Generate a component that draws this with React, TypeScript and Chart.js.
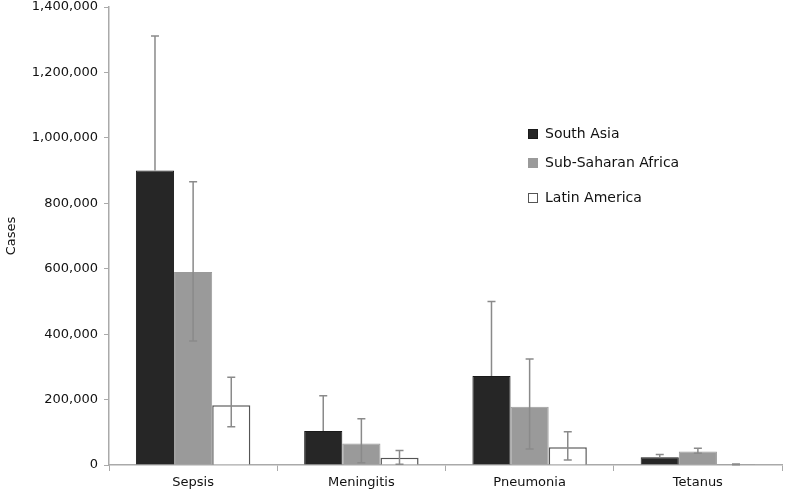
import React, { useEffect, useRef } from "react";
import { Chart, registerables } from "chart.js";

Chart.register(...registerables);

const categories = ["Sepsis", "Meningitis", "Pneumonia", "Tetanus"];
const seriesNames = ["South Asia", "Sub-Saharan Africa", "Latin America"];
const southAsia = [900000, 104000, 272000, 24000];
const southAsiaLow = [900000, 104000, 272000, 24000];
const southAsiaHigh = [1311000, 212000, 500000, 32000];
const subSaharan = [590000, 66000, 178000, 41000];
const subSaharanLow = [379000, 7000, 49000, 36000];
const subSaharanHigh = [866000, 141000, 324000, 51000];
const latinAmerica = [183000, 22000, 54000, 2000];
const latinAmericaLow = [117000, 2000, 15000, 1000];
const latinAmericaHigh = [268000, 44000, 102000, 3000];
const yTicksMax = 1400000;
const yStep = 200000;

const FONT = "'DejaVu Sans', sans-serif";

const errorBarPlugin = {
  id: "errorBars",
  afterDatasetsDraw(chart: any) {
    const ctx = chart.ctx;
    const yScale = chart.scales.y;
    chart.data.datasets.forEach((ds: any, i: number) => {
      const meta = chart.getDatasetMeta(i);
      meta.data.forEach((el: any, j: number) => {
        const lo = yScale.getPixelForValue(ds.errLow[j]);
        const hi = yScale.getPixelForValue(ds.errHigh[j]);
        const x = el.x;
        ctx.save();
        ctx.strokeStyle = "#8a8a8a";
        ctx.lineWidth = 1.5;
        ctx.beginPath();
        ctx.moveTo(x, lo);
        ctx.lineTo(x, hi);
        ctx.moveTo(x - 4, hi);
        ctx.lineTo(x + 4, hi);
        if (ds.errLow[j] < ds.data[j]) {
          ctx.moveTo(x - 4, lo);
          ctx.lineTo(x + 4, lo);
        }
        ctx.stroke();
        ctx.restore();
      });
    });
  },
};

const legendPlugin = {
  id: "customLegend",
  afterDraw(chart: any) {
    const ctx = chart.ctx;
    const rowsY = [134, 163, 198];
    const boxX = 528;
    ctx.save();
    ctx.font = `14px ${FONT}`;
    ctx.textBaseline = "middle";
    chart.data.datasets.forEach((ds: any, i: number) => {
      const y = rowsY[i];
      ctx.fillStyle = ds.backgroundColor;
      ctx.fillRect(boxX, y - 5, 10, 10);
      ctx.strokeStyle = ds.borderColor;
      ctx.lineWidth = 1;
      ctx.strokeRect(boxX + 0.5, y - 4.5, 9, 9);
      ctx.fillStyle = "#111";
      ctx.fillText(ds.label, boxX + 17, y);
    });
    ctx.restore();
  },
};

export default function App() {
  const ref = useRef<HTMLCanvasElement>(null);
  useEffect(() => {
    document.body.style.margin = "0";
    const chart = new Chart(ref.current!, {
      type: "bar",
      data: {
        labels: categories,
        datasets: [
          {
            label: seriesNames[0],
            data: southAsia,
            errLow: southAsiaLow,
            errHigh: southAsiaHigh,
            backgroundColor: "#262626",
            borderColor: "#1a1a1a",
            borderWidth: 1,
          } as any,
          {
            label: seriesNames[1],
            data: subSaharan,
            errLow: subSaharanLow,
            errHigh: subSaharanHigh,
            backgroundColor: "#9a9a9a",
            borderColor: "#9a9a9a",
            borderWidth: 1,
          } as any,
          {
            label: seriesNames[2],
            data: latinAmerica,
            errLow: latinAmericaLow,
            errHigh: latinAmericaHigh,
            backgroundColor: "#ffffff",
            borderColor: "#555555",
            borderWidth: 1.5,
          } as any,
        ],
      },
      options: {
        animation: false,
        responsive: false,
        layout: { padding: { top: 7, right: 8, left: 0, bottom: 0 } },
        plugins: { legend: { display: false }, tooltip: { enabled: false } },
        datasets: { bar: { categoryPercentage: 0.68, barPercentage: 1.0 } },
        scales: {
          x: {
            grid: {
              display: true,
              drawOnChartArea: false,
              offset: true,
              tickLength: 6,
              color: "#aaaaaa",
            },
            border: { color: "#aaaaaa", width: 1.5 },
            ticks: { font: { family: FONT, size: 13 }, color: "#111", padding: 4 },
            afterFit(scale: any) {
              scale.height = 30;
              scale.paddingLeft = 0;
              scale.paddingRight = 0;
            },
          },
          y: {
            min: 0,
            max: yTicksMax,
            ticks: {
              stepSize: yStep,
              font: { family: FONT, size: 13 },
              color: "#111",
              padding: 6,
              callback: (v: any) => Number(v).toLocaleString("en-US"),
            },
            grid: {
              display: true,
              drawOnChartArea: false,
              tickLength: 5,
              color: "#aaaaaa",
            },
            border: { color: "#aaaaaa", width: 1.5 },
            title: {
              display: true,
              text: "Cases",
              font: { family: FONT, size: 13 },
              color: "#111",
              padding: { top: 4, bottom: 0 },
            },
            afterFit(scale: any) {
              scale.width = 109;
              scale.paddingTop = 0;
              scale.paddingBottom = 0;
            },
          },
        },
      },
      plugins: [errorBarPlugin, legendPlugin],
    } as any);
    return () => chart.destroy();
  }, []);
  return <canvas ref={ref} width={790} height={495} style={{ display: "block" }} />;
}
